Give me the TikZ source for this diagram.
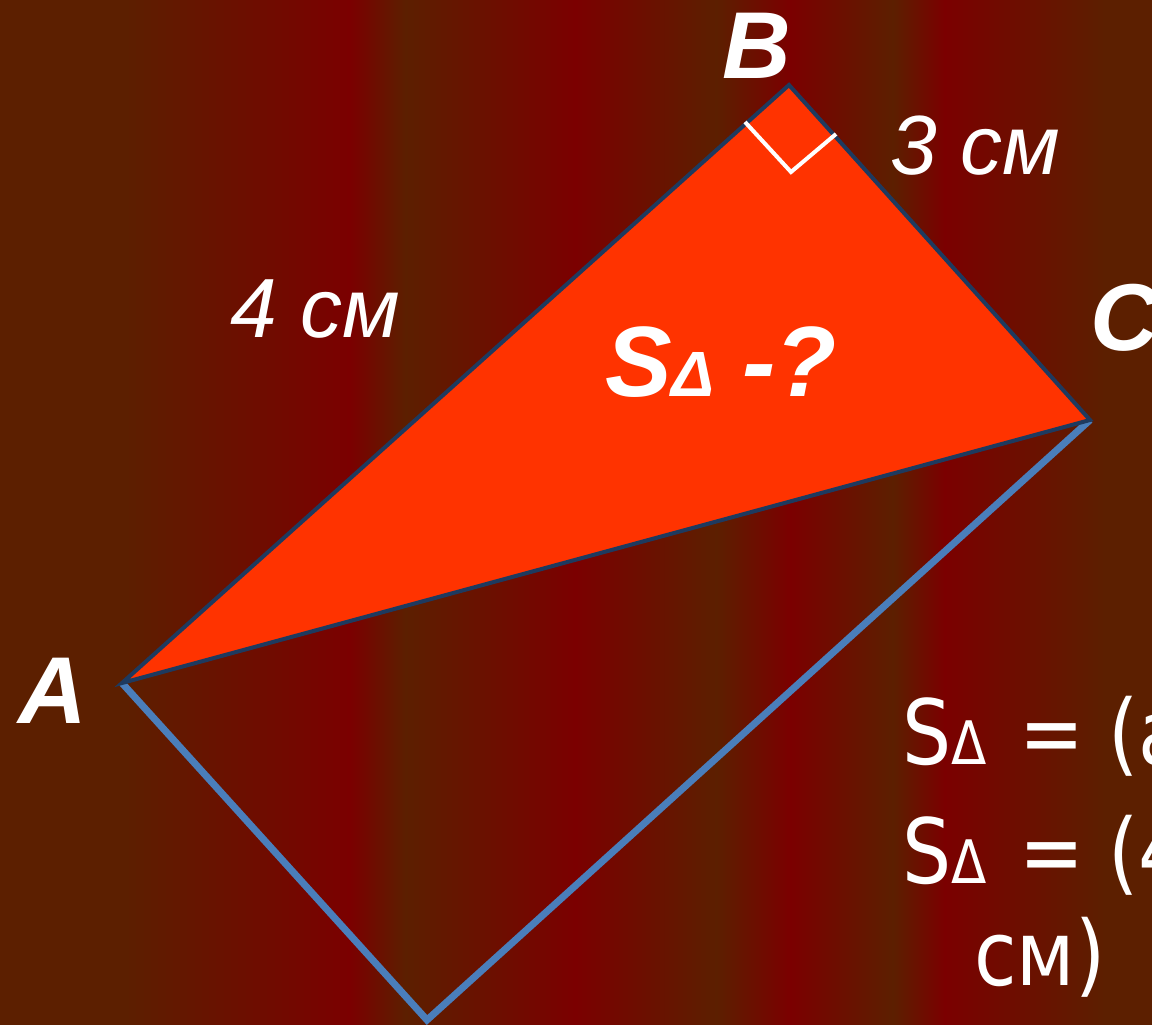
\documentclass[tikz,border=0pt]{standalone}
\usepackage{fontspec}
\setmainfont{Liberation Sans}
\newfontfamily\vfont[FakeStretch=0.86]{DejaVu Sans}
\definecolor{bgbrown}{RGB}{92,31,0}
\definecolor{bgred}{RGB}{123,0,0}
\definecolor{trifill}{RGB}{255,51,0}
\definecolor{navy}{RGB}{30,58,95}
\definecolor{rectblue}{RGB}{74,126,187}
\tikzset{
  lbl/.style={text=white, inner sep=0pt, anchor=base west},
  triedge/.style={draw=navy, line width=4pt, line join=miter},
  rectedge/.style={draw=rectblue, line width=7pt},
  rightmark/.style={draw=white, line width=4pt},
}
\begin{document}
\begin{tikzpicture}[x=1pt,y=-1pt]
\useasboundingbox (0,0) rectangle (1152,1025);
\clip (0,0) rectangle (1152,1025);
% background stripes
\fill[bgbrown] (0,0) rectangle (126,1025);
\shade[left color=bgbrown,right color=bgred] (125,0) rectangle (350.5,1025);
\shade[left color=bgred,right color=bgbrown] (350,0) rectangle (405.5,1025);
\shade[left color=bgbrown,right color=bgred] (405,0) rectangle (575.5,1025);
\shade[left color=bgred,right color=bgbrown] (575,0) rectangle (716.5,1025);
\shade[left color=bgbrown,right color=bgred] (716,0) rectangle (790.5,1025);
\shade[left color=bgred,right color=bgbrown] (790,0) rectangle (893.5,1025);
\shade[left color=bgbrown,right color=bgred] (893,0) rectangle (944.5,1025);
\shade[left color=bgred,right color=bgbrown] (944,0) rectangle (1105.5,1025);
\fill[bgbrown] (1105,0) rectangle (1152,1025);
% vertices
\coordinate (A) at (122,683);
\coordinate (B) at (789,85);
\coordinate (C) at (1090,420);
\coordinate (D) at (427,1020);
\coordinate (R1) at (745,122);
\coordinate (R2) at (791,172);
\coordinate (R3) at (836,134);
% triangle
\fill[trifill] (A) -- (B) -- (C) -- cycle;
\draw[rectedge] (A) -- (D) -- (C);
\draw[triedge] (A) -- (B) -- (C) -- cycle;
\draw[rightmark] (R1) -- (R2) -- (R3);
% labels
\node[lbl] (lA) at (18,723) {\fontsize{95}{95}\selectfont\bfseries\itshape A};
\node[lbl] (lB) at (722,78) {\fontsize{95}{95}\selectfont\bfseries\itshape B};
\node[lbl] (lC) at (1090,350) {\fontsize{95}{95}\selectfont\bfseries\itshape C};
\node[lbl] (l3) at (890,174) {\fontsize{84}{84}\selectfont\itshape 3 см};
\node[lbl] (l4) at (230,337) {\fontsize{84}{84}\selectfont\itshape 4 см};
\node[lbl] (lS) at (605,396) {\fontsize{100}{100}\selectfont\bfseries\itshape S{\fontsize{64}{64}\selectfont Δ} -?};
% formula
\node[lbl] (f1) at (902,764) {\vfont\fontsize{90}{90}\selectfont S{\fontsize{60}{60}\selectfont Δ}\hspace{8pt} = (a};
\node[lbl] (f2) at (902,883) {\vfont\fontsize{90}{90}\selectfont S{\fontsize{60}{60}\selectfont Δ}\hspace{8pt} = (4};
\node[lbl] (f3) at (974,985) {\vfont\fontsize{90}{90}\selectfont см)};
\end{tikzpicture}
\end{document}
